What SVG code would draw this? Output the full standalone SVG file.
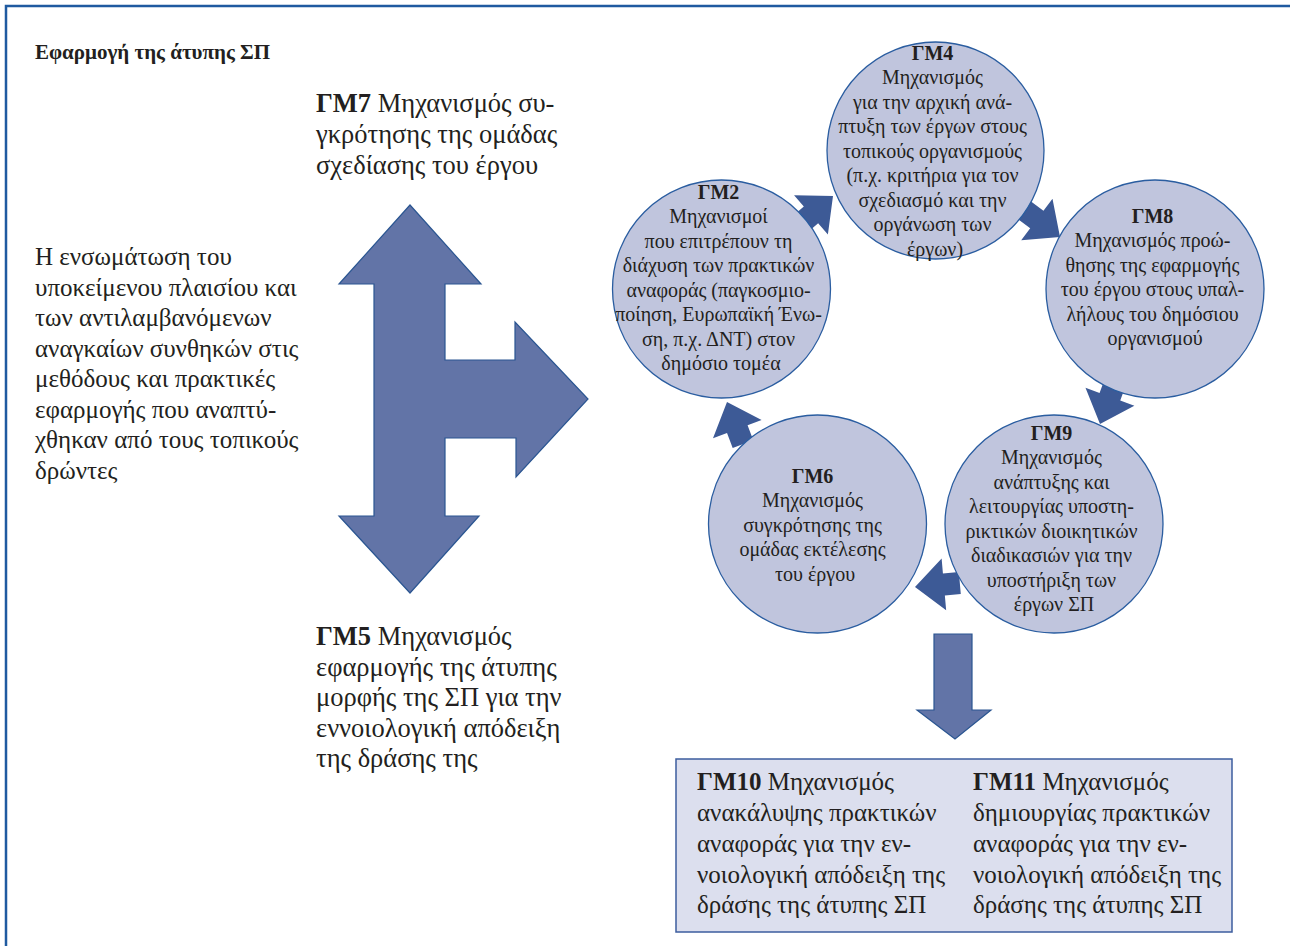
<svg xmlns="http://www.w3.org/2000/svg" width="1290" height="946" viewBox="0 0 1290 946">
<defs>
<style>
.t{font-family:"Liberation Serif","Times New Roman",serif;fill:#231f20}
.b{font-weight:bold}
.sm{font-size:20px}
.node{fill:#c0c5dd;stroke:#2a5da0;stroke-width:1.3}
.blk{fill:#6274a7;stroke:#2a5591;stroke-width:1.2}
.sa{fill:#3d5a96}
.box{fill:#dcdfee;stroke:#3d5d9e;stroke-width:1.5}
</style>
<path id="sarrow" d="M0,0 L-29,-26 L-29,-11 L-45,-11 L-45,11 L-29,11 L-29,26 Z"/>
</defs>
<rect width="1290" height="946" fill="#fff"/>
<path d="M6,946 L6,6 L1290,6" fill="none" stroke="#1f5aa0" stroke-width="2.5"/>

<g id="title">
<text class="t b" x="35" y="59" font-size="21">Εφαρμογή της άτυπης ΣΠ</text>
</g>

<g id="context">
<text class="t" font-size="25">
<tspan x="35" y="265">Η ενσωμάτωση του</tspan>
<tspan x="35" y="295.5">υποκείμενου πλαισίου και</tspan>
<tspan x="35" y="326">των αντιλαμβανόμενων</tspan>
<tspan x="35" y="356.5">αναγκαίων συνθηκών στις</tspan>
<tspan x="35" y="387">μεθόδους και πρακτικές</tspan>
<tspan x="35" y="417.5">εφαρμογής που αναπτύ-</tspan>
<tspan x="35" y="448">χθηκαν από τους τοπικούς</tspan>
<tspan x="35" y="478.5">δρώντες</tspan>
</text>
</g>

<g id="connectors">
<polygon class="blk" points="410,205 481,284 445,284 445,360 515,360 515,322 588,399 516,477 516,438 445,438 445,516 479,516 410,593 339,516 374,516 374,284 339,284"/>
<polygon class="blk" points="934,634 972,634 972,710 991,710 955,739 917,710 934,710"/>
<use href="#sarrow" class="sa" transform="translate(833,196) rotate(-40.6)"/>
<use href="#sarrow" class="sa" transform="translate(1060,237) rotate(37)"/>
<use href="#sarrow" class="sa" transform="translate(1100,424) rotate(110)"/>
<use href="#sarrow" class="sa" transform="translate(915,587) rotate(175)"/>
<use href="#sarrow" class="sa" transform="translate(727,402) rotate(-110.8)"/>
</g>

<g id="gm7">
<text class="t" font-size="26.5"><tspan x="316" y="112"><tspan class="b">ΓΜ7</tspan> Μηχανισμός συ-</tspan><tspan x="316" y="143">γκρότησης της ομάδας</tspan><tspan x="316" y="174">σχεδίασης του έργου</tspan></text>
</g>

<g id="gm5">
<text class="t" font-size="26.5"><tspan x="316" y="645"><tspan class="b">ΓΜ5</tspan> Μηχανισμός</tspan><tspan x="316" y="676">εφαρμογής της άτυπης</tspan><tspan x="316" y="706">μορφής της ΣΠ για την</tspan><tspan x="316" y="737">εννοιολογική απόδειξη</tspan><tspan x="316" y="767">της δράσης της</tspan></text>
</g>

<g id="gm4">
<circle class="node" cx="935.5" cy="150.5" r="108.5"/>
<text class="t sm" text-anchor="middle">
<tspan class="b" x="935" y="59.5">ΓΜ4</tspan>
<tspan x="935" y="84">Μηχανισμός</tspan>
<tspan x="935" y="108.5">για την αρχική ανά-</tspan>
<tspan x="935" y="133">πτυξη των έργων στους</tspan>
<tspan x="935" y="157.5">τοπικούς οργανισμούς</tspan>
<tspan x="935" y="182">(π.χ. κριτήρια για τον</tspan>
<tspan x="935" y="206.5">σχεδιασμό και την</tspan>
<tspan x="935" y="231">οργάνωση των</tspan>
<tspan x="935" y="255.5">έργων)</tspan>
</text>
</g>

<g id="gm2">
<circle class="node" cx="721.5" cy="289" r="109"/>
<text class="t sm" text-anchor="middle">
<tspan class="b" x="721" y="198.5">ΓΜ2</tspan>
<tspan x="721" y="223">Μηχανισμοί</tspan>
<tspan x="721" y="247.5">που επιτρέπουν τη</tspan>
<tspan x="721" y="272">διάχυση των πρακτικών</tspan>
<tspan x="721" y="296.5">αναφοράς (παγκοσμιο-</tspan>
<tspan x="721" y="321">ποίηση, Ευρωπαϊκή Ένω-</tspan>
<tspan x="721" y="345.5">ση, π.χ. ΔΝΤ) στον</tspan>
<tspan x="721" y="370">δημόσιο τομέα</tspan>
</text>
</g>

<g id="gm8">
<circle class="node" cx="1155" cy="289" r="109"/>
<text class="t sm" text-anchor="middle">
<tspan class="b" x="1155" y="222.5">ΓΜ8</tspan>
<tspan x="1155" y="247">Μηχανισμός προώ-</tspan>
<tspan x="1155" y="271.5">θησης της εφαρμογής</tspan>
<tspan x="1155" y="296">του έργου στους υπαλ-</tspan>
<tspan x="1155" y="320.5">λήλους του δημόσιου</tspan>
<tspan x="1155" y="345">οργανισμού</tspan>
</text>
</g>

<g id="gm9">
<circle class="node" cx="1054" cy="524" r="109"/>
<text class="t sm" text-anchor="middle">
<tspan class="b" x="1054" y="439.5">ΓΜ9</tspan>
<tspan x="1054" y="464">Μηχανισμός</tspan>
<tspan x="1054" y="488.5">ανάπτυξης και</tspan>
<tspan x="1054" y="513">λειτουργίας υποστη-</tspan>
<tspan x="1054" y="537.5">ρικτικών διοικητικών</tspan>
<tspan x="1054" y="562">διαδικασιών για την</tspan>
<tspan x="1054" y="586.5">υποστήριξη των</tspan>
<tspan x="1054" y="611">έργων ΣΠ</tspan>
</text>
</g>

<g id="gm6">
<circle class="node" cx="817.5" cy="524" r="109"/>
<text class="t sm" text-anchor="middle">
<tspan class="b" x="815" y="482.5">ΓΜ6</tspan>
<tspan x="815" y="507">Μηχανισμός</tspan>
<tspan x="815" y="531.5">συγκρότησης της</tspan>
<tspan x="815" y="556">ομάδας εκτέλεσης</tspan>
<tspan x="815" y="580.5">του έργου</tspan>
</text>
</g>

<g id="result">
<rect class="box" x="676" y="759" width="556" height="173"/>
<text class="t" font-size="25">
<tspan x="697" y="790"><tspan class="b">ΓΜ10</tspan> Μηχανισμός</tspan>
<tspan x="697" y="821">ανακάλυψης πρακτικών</tspan>
<tspan x="697" y="852">αναφοράς για την εν-</tspan>
<tspan x="697" y="883">νοιολογική απόδειξη της</tspan>
<tspan x="697" y="913">δράσης της άτυπης ΣΠ</tspan>
</text>
<text class="t" font-size="25">
<tspan x="973" y="790"><tspan class="b">ΓΜ11</tspan> Μηχανισμός</tspan>
<tspan x="973" y="821">δημιουργίας πρακτικών</tspan>
<tspan x="973" y="852">αναφοράς για την εν-</tspan>
<tspan x="973" y="883">νοιολογική απόδειξη της</tspan>
<tspan x="973" y="913">δράσης της άτυπης ΣΠ</tspan>
</text>
</g>
</svg>
